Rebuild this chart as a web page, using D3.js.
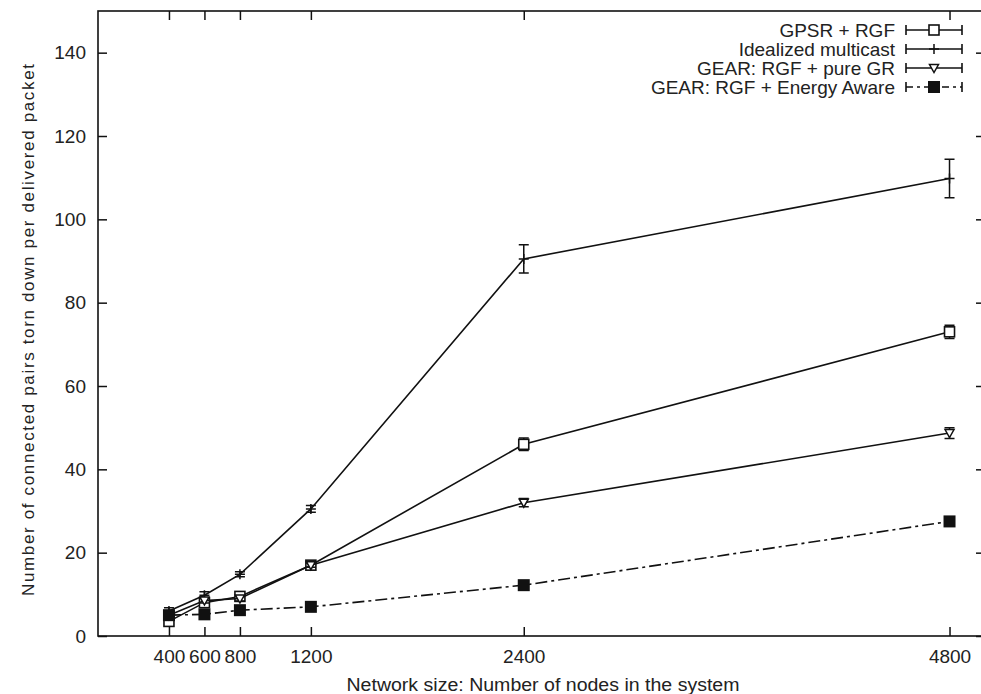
<!DOCTYPE html>
<html>
<head>
<meta charset="utf-8">
<script src="https://cdn.jsdelivr.net/npm/d3@7"></script>
<style>
  body { margin: 0; background: #fff; }
  svg { display: block; }
</style>
</head>
<body>
<div id="chart"></div>
<script>
const nodes = [400, 600, 800, 1200, 2400, 4800];
const xTicks = [400, 600, 800, 1200, 2400, 4800];
const yTicks = [0, 20, 40, 60, 80, 100, 120, 140];

const seriesNames = ["GPSR + RGF", "Idealized multicast", "GEAR: RGF + pure GR", "GEAR: RGF + Energy Aware"];
const gpsrValues = [3.5, 8, 9.5, 17, 46, 73];
const gpsrErr = [1, 0.8, 0.6, 0.6, 1.5, 1.6];
const idealValues = [6, 9.8, 14.8, 30.5, 90.5, 109.8];
const idealErr = [0.8, 0.8, 0.6, 0.8, 3.4, 4.6];
const pureValues = [5, 8.5, 9, 17, 32, 48.7];
const pureErr = [0.8, 0.6, 0.6, 0.5, 1.0, 1.3];
const energyValues = [5, 5.2, 6.2, 7, 12.2, 27.5];
const energyErr = [0.8, 0.6, 0.5, 0.4, 0.5, 0.6];

const width = 981, height = 694;
const margin = { top: 11, right: -4, bottom: 58, left: 98 };

const svg = d3.select("#chart").append("svg")
    .attr("width", width)
    .attr("height", height)
    .attr("font-family", "Liberation Sans, Arial, sans-serif");

const x = d3.scaleLinear()
    .domain([0, 5000])
    .range([margin.left, width - margin.right]);

const y = d3.scaleLinear()
    .domain([0, 150])
    .range([height - margin.bottom, margin.top]);

const series = [
    { name: seriesNames[0], values: gpsrValues, err: gpsrErr, marker: "openSquare", dash: null },
    { name: seriesNames[1], values: idealValues, err: idealErr, marker: "plus", dash: null },
    { name: seriesNames[2], values: pureValues, err: pureErr, marker: "triangle", dash: null },
    { name: seriesNames[3], values: energyValues, err: energyErr, marker: "filledSquare", dash: "12,4,3,4" }
];

// frame
svg.append("rect")
    .attr("x", x(0))
    .attr("y", y(150))
    .attr("width", x(5000) - x(0))
    .attr("height", y(0) - y(150))
    .attr("fill", "none")
    .attr("stroke", "#111")
    .attr("stroke-width", 1.6);

// axes, gnuplot-style inward ticks mirrored
let xAxis = g => g
    .attr("transform", `translate(0,${y(0)})`)
    .call(d3.axisBottom(x).tickValues(xTicks).tickFormat(d3.format("d")).tickSizeInner(-9).tickSizeOuter(0).tickPadding(14))
    .call(g => g.select(".domain").remove())
    .attr("font-size", 19);

let xAxisTop = g => g
    .attr("transform", `translate(0,${y(150)})`)
    .call(d3.axisTop(x).tickValues(xTicks).tickSizeInner(-9).tickSizeOuter(0).tickFormat(""))
    .call(g => g.select(".domain").remove());

let yAxis = g => g
    .attr("transform", `translate(${x(0)},0)`)
    .call(d3.axisLeft(y).tickValues(yTicks).tickSizeInner(-9).tickSizeOuter(0).tickPadding(12))
    .call(g => g.select(".domain").remove())
    .attr("font-size", 19);

let yAxisRight = g => g
    .attr("transform", `translate(${x(5000)},0)`)
    .call(d3.axisRight(y).tickValues(yTicks).tickSizeInner(-9).tickSizeOuter(0).tickFormat(""))
    .call(g => g.select(".domain").remove());

svg.append("g").call(xAxis);
svg.append("g").call(xAxisTop);
svg.append("g").call(yAxis);
svg.append("g").call(yAxisRight);

svg.selectAll(".tick line").attr("stroke", "#111").attr("stroke-width", 1.5);
svg.selectAll(".tick text").attr("fill", "#222").attr("font-family", "Liberation Sans, Arial, sans-serif");

// axis titles
svg.append("text")
    .attr("x", 543)
    .attr("y", 691)
    .attr("text-anchor", "middle")
    .attr("font-size", 18)
    .attr("fill", "#222")
    .attr("textLength", 393)
    .attr("lengthAdjust", "spacingAndGlyphs")
    .text("Network size: Number of nodes in the system");

svg.append("text")
    .attr("transform", `translate(34,330) rotate(-90)`)
    .attr("text-anchor", "middle")
    .attr("font-size", 17)
    .attr("fill", "#222")
    .attr("textLength", 532)
    .attr("lengthAdjust", "spacing")
    .text("Number of connected pairs torn down per delivered packet");

function drawMarker(g, type, cx, cy) {
    if (type === "openSquare") {
        g.append("rect").attr("x", cx - 5).attr("y", cy - 5).attr("width", 10).attr("height", 10)
            .attr("fill", "#fff").attr("stroke", "#111").attr("stroke-width", 1.6);
    } else if (type === "filledSquare") {
        g.append("rect").attr("x", cx - 6).attr("y", cy - 6).attr("width", 12).attr("height", 12)
            .attr("fill", "#111");
    } else if (type === "triangle") {
        g.append("path")
            .attr("d", `M${cx - 4.5},${cy - 3.5}L${cx + 4.5},${cy - 3.5}L${cx},${cy + 4.5}Z`)
            .attr("fill", "#fff").attr("stroke", "#111").attr("stroke-width", 1.5);
    } else if (type === "plus") {
        g.append("path")
            .attr("d", `M${cx - 5},${cy}L${cx + 5},${cy}M${cx},${cy - 5}L${cx},${cy + 5}`)
            .attr("stroke", "#111").attr("stroke-width", 1.5);
    }
}

const line = d3.line()
    .x((d, i) => x(nodes[i]))
    .y(d => y(d));

series.forEach(s => {
    const g = svg.append("g");
    g.append("path")
        .datum(s.values)
        .attr("d", line)
        .attr("fill", "none")
        .attr("stroke", "#111")
        .attr("stroke-width", 1.6)
        .attr("stroke-dasharray", s.dash);

    // error bars
    g.selectAll(".err")
        .data(s.values)
        .join("path")
        .attr("d", (d, i) => {
            const cx = x(nodes[i]);
            const y1 = y(d + s.err[i]), y2 = y(d - s.err[i]);
            return `M${cx},${y1}L${cx},${y2}M${cx - 5},${y1}L${cx + 5},${y1}M${cx - 5},${y2}L${cx + 5},${y2}`;
        })
        .attr("fill", "none")
        .attr("stroke", "#111")
        .attr("stroke-width", 1.5);

    s.values.forEach((d, i) => drawMarker(g, s.marker, x(nodes[i]), y(d)));
});

// legend
const legend = svg.append("g").attr("font-size", 19);
series.forEach((s, i) => {
    const ly = 30 + i * 19;
    legend.append("text")
        .attr("x", 895)
        .attr("y", ly)
        .attr("dy", "0.35em")
        .attr("text-anchor", "end")
        .attr("fill", "#222")
        .text(s.name);
    legend.append("path")
        .attr("d", `M906,${ly}L962,${ly}`)
        .attr("stroke", "#111")
        .attr("stroke-width", 1.6)
        .attr("stroke-dasharray", s.dash ? "7,4,3,4" : null);
    legend.append("path")
        .attr("d", `M906,${ly - 5}L906,${ly + 5}M962,${ly - 5}L962,${ly + 5}`)
        .attr("stroke", "#111")
        .attr("stroke-width", 1.6);
    drawMarker(legend, s.marker, 934, ly);
});
</script>
</body>
</html>
